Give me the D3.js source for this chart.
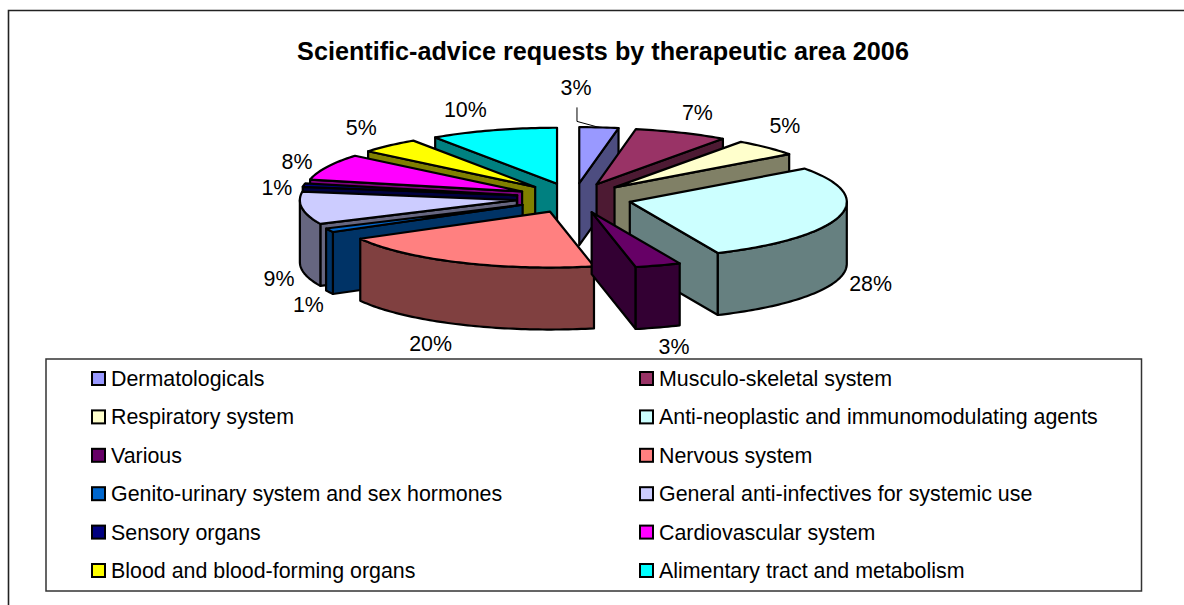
<!DOCTYPE html>
<html><head><meta charset="utf-8">
<script src="https://cdn.jsdelivr.net/npm/d3@7"></script>
<style>html,body{margin:0;padding:0;background:#fff}svg{display:block}text{font-family:"Liberation Sans",Arial,sans-serif;fill:#000}</style>
</head><body><svg id="c" width="1184" height="605"></svg>
<script>
const chartTitle = "Scientific-advice requests by therapeutic area 2006";
const categories = ["Dermatologicals","Musculo-skeletal system","Respiratory system","Anti-neoplastic and immunomodulating agents","Various","Nervous system","Genito-urinary system and sex hormones","General anti-infectives for systemic use","Sensory organs","Cardiovascular system","Blood and blood-forming organs","Alimentary tract and metabolism"];
const values = [2.9,7,5,28.49,3.4,20.2,1.1,9.4,1,7.6,4.5,9.5];
const percentLabels = ["3%","7%","5%","28%","3%","20%","1%","9%","1%","8%","5%","10%"];
const colors = ["#9999FF","#993366","#FFFFCC","#CCFFFF","#660066","#FF8080","#0066CC","#CCCCFF","#000080","#FF00FF","#FFFF00","#00FFFF"];
const labelNudges = [[-23,-39],[16,-20],[18,-22],[31,68],[16,82],[-29,82],[-21,75],[-23,71],[-27,3],[-30,-5],[-28,-18],[-28,-20]];

const svg = d3.select("#c");
svg.append("path").attr("fill","none").attr("stroke","#222").attr("stroke-width",1.6).attr("d",d3.line()([[8.5,605],[8.5,10.5],[1184,10.5]]));
svg.append("text").attr("x",603).attr("y",60).attr("text-anchor","middle").attr("font-weight","bold").attr("font-size",25.2).text(chartTitle);

const cx=574, cy=198, rx=217, ry=56, depth=62, explode=0.266;
const rScaleX=d3.scaleLinear().domain([0,1]).range([0,rx]);
const rScaleY=d3.scaleLinear().domain([0,1]).range([0,ry]);
const project=(a,r,dz=0)=>[cx+rScaleX(r)*Math.sin(a), cy-rScaleY(r)*Math.cos(a)+dz];
const pie=d3.pie().sort(null).value(d=>d).startAngle(0).endAngle(2*Math.PI);
const arcs=pie(values).map((d,i)=>({...d,i,mid:(d.startAngle+d.endAngle)/2}));
const line=d3.line();
const arcPts=(a0,a1,dz,off)=>{
  const n=Math.max(2,Math.ceil(Math.abs(a1-a0)/0.02));
  return d3.range(n+1).map(k=>{const a=a0+(a1-a0)*k/n;
    const p=project(a,1,dz);return [p[0]+off[0],p[1]+off[1]];});
};
const half=c=>{const r=d3.rgb(c);return d3.rgb(r.r/2,r.g/2,r.b/2).formatHex();};
const backFirst=arcs.slice().sort((a,b)=>Math.cos(b.mid)-Math.cos(a.mid));
const gPie=svg.append("g").attr("stroke","#000").attr("stroke-width",2.2).attr("stroke-linejoin","round");
backFirst.forEach(d=>{
  const off=[rScaleX(explode)*Math.sin(d.mid), -rScaleY(explode)*Math.cos(d.mid)];
  const apex=[cx+off[0],cy+off[1]];
  const apexB=[apex[0],apex[1]+depth];
  const side=half(colors[d.i]);
  const g=gPie.append("g");
  const face=(ang)=>{
    const p=project(ang,1,0);const e=[p[0]+off[0],p[1]+off[1]];
    g.append("path").attr("fill",side).attr("d",line([apex,e,[e[0],e[1]+depth],apexB])+"Z");
  };
  if(d.startAngle>Math.PI) face(d.startAngle);
  if(d.endAngle<Math.PI) face(d.endAngle);
  const w0=Math.max(d.startAngle,Math.PI/2), w1=Math.min(d.endAngle,3*Math.PI/2);
  if(w1>w0){
    const top=arcPts(w0,w1,0,off), bot=arcPts(w1,w0,depth,off);
    g.append("path").attr("fill",side).attr("d",line(top.concat(bot))+"Z");
  }
  g.append("path").attr("fill",colors[d.i]).attr("d",line([apex].concat(arcPts(d.startAngle,d.endAngle,0,off)))+"Z");
});

const gLab=svg.append("g").attr("font-size",21.4);
arcs.forEach(d=>{
  const rim=project(d.mid,1+explode);
  const n=labelNudges[d.i];
  const lx=rim[0]+n[0], ly=rim[1]+n[1];
  gLab.append("text").attr("x",lx).attr("y",ly).attr("text-anchor","middle").attr("dominant-baseline","central").text(percentLabels[d.i]);
  if(d.i===0){
    svg.append("path").attr("fill","none").attr("stroke","#000").attr("stroke-width",1)
      .attr("d",line([[lx+1,ly+19],[lx+1,ly+33],rim]));
  }
});

svg.append("rect").attr("x",46).attr("y",359).attr("width",1095.5).attr("height",232).attr("fill","none").attr("stroke","#333").attr("stroke-width",1.5);
const colX=d3.scalePoint().domain([0,1]).range([91,639]);
const rowY=d3.scaleLinear().domain([0,5]).range([379,571]);
const gLeg=svg.append("g");
categories.forEach((c,i)=>{
  const col=i%2,row=Math.floor(i/2),x=colX(col),y=rowY(row);
  gLeg.append("rect").attr("x",x+1).attr("y",y-7).attr("width",13).attr("height",13).attr("fill",colors[i]).attr("stroke","#000").attr("stroke-width",2);
  gLeg.append("text").attr("x",x+20).attr("y",y).attr("dominant-baseline","central").attr("font-size",21.4).text(c);
});
</script></body></html>
